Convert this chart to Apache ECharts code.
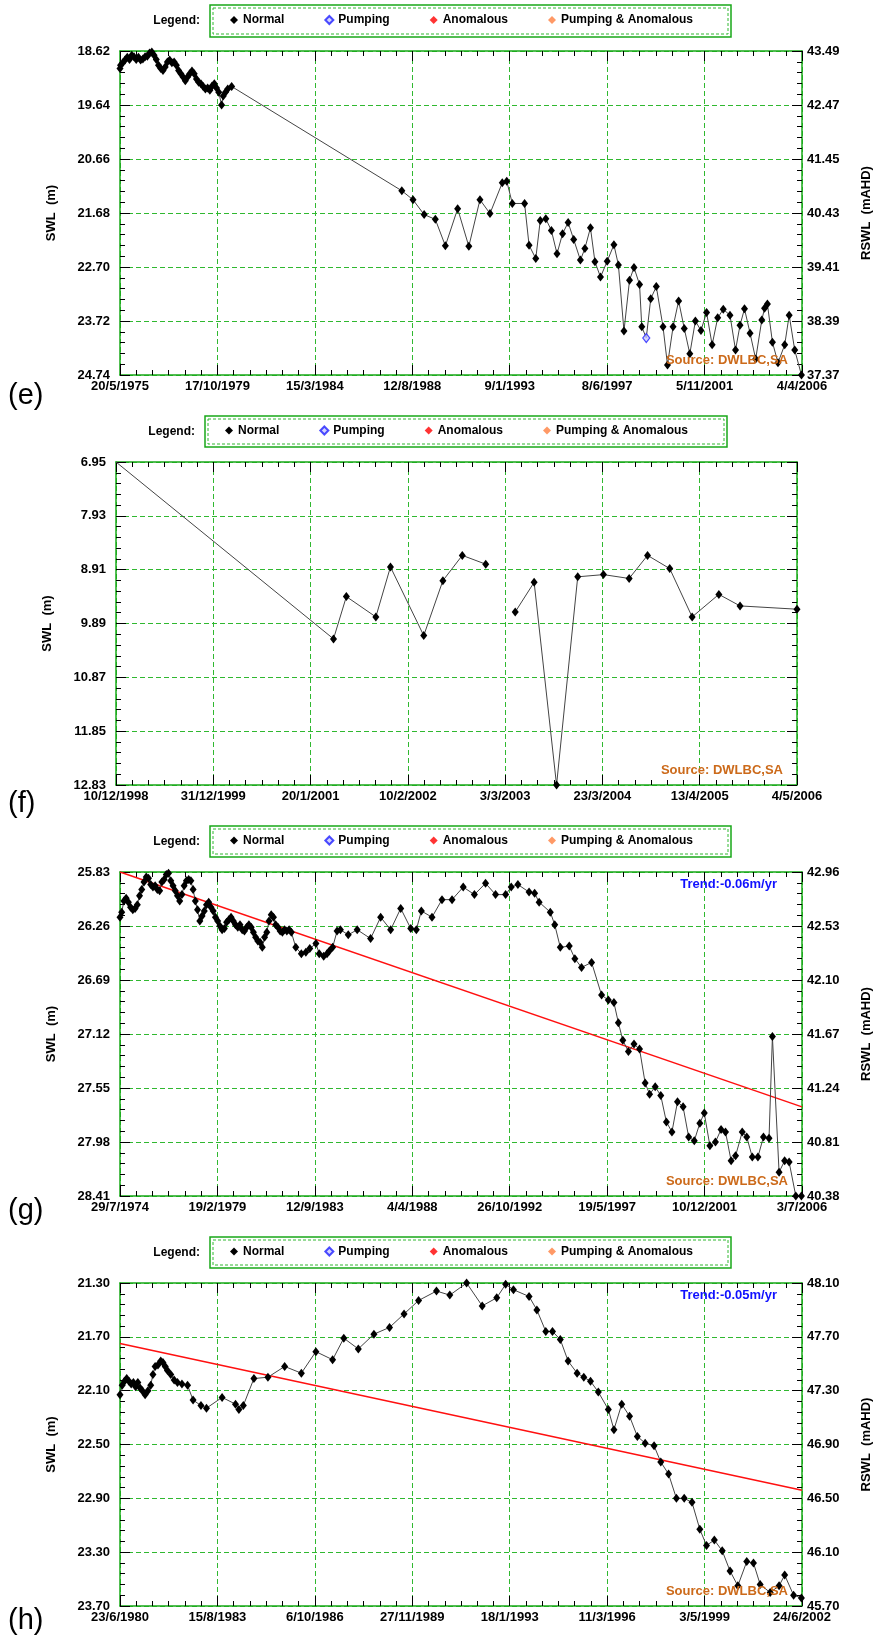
<!DOCTYPE html>
<html>
<head>
<meta charset="utf-8">
<script src="https://cdn.jsdelivr.net/npm/echarts@6/dist/echarts.min.js"></script>
<style>
  html, body { margin: 0; padding: 0; background: #fff; }
  #chart { width: 875px; height: 1638px; }
</style>
</head>
<body>
<div id="chart"></div>
<script>
// ---- data: x is days since the first tick date of each panel, y is SWL (m) ----
const eXTicks = ['20/5/1975', '17/10/1979', '15/3/1984', '12/8/1988', '9/1/1993', '8/6/1997', '5/11/2001', '4/4/2006'];
const eDayStep = 1611;
const eSwlTicks = ['18.62', '19.64', '20.66', '21.68', '22.70', '23.72', '24.74'];
const eRswlTicks = ['43.49', '42.47', '41.45', '40.43', '39.41', '38.39', '37.37'];
const eNormal = [
  [0, 18.95], [9, 18.89], [46, 18.84], [83, 18.79], [120, 18.74], [157, 18.78], [194, 18.70], [231, 18.73], [268, 18.78], [305, 18.74],
  [341, 18.79], [378, 18.77], [415, 18.73], [452, 18.72], [489, 18.66], [526, 18.64], [563, 18.70], [600, 18.78], [637, 18.89], [674, 18.95],
  [711, 18.99], [747, 18.92], [784, 18.83], [821, 18.79], [858, 18.84], [895, 18.83], [932, 18.89], [969, 18.99], [1006, 19.05], [1043, 19.11],
  [1080, 19.18], [1117, 19.11], [1154, 19.05], [1190, 19.00], [1227, 19.05], [1264, 19.15], [1301, 19.21], [1338, 19.24], [1375, 19.29], [1412, 19.34],
  [1449, 19.32], [1486, 19.36], [1523, 19.28], [1560, 19.24], [1596, 19.32], [1633, 19.40], [1680, 19.64], [1707, 19.47], [1744, 19.40], [1781, 19.34],
  [1846, 19.29],
  [4660, 21.26], [4845, 21.43], [5029, 21.71], [5214, 21.80], [5380, 22.30], [5583, 21.60], [5768, 22.31], [5952, 21.43], [6118, 21.69], [6321, 21.11],
  [6395, 21.08], [6487, 21.50], [6690, 21.50], [6764, 22.29], [6875, 22.54], [6949, 21.82], [7041, 21.79], [7133, 22.01], [7226, 22.45], [7318, 22.07],
  [7410, 21.86], [7502, 22.18], [7613, 22.57], [7687, 22.35], [7779, 21.96], [7853, 22.60], [7945, 22.89], [8056, 22.59], [8167, 22.28], [8241, 22.66],
  [8333, 23.91], [8425, 22.95], [8499, 22.71], [8591, 23.03], [8628, 23.83], [8702, 24.04], [8776, 23.30], [8868, 23.07], [8979, 23.83], [9053, 24.55],
  [9145, 23.83], [9237, 23.34], [9330, 23.86], [9422, 24.34], [9514, 23.72], [9606, 23.90], [9699, 23.56], [9791, 24.17], [9883, 23.66], [9975, 23.50],
  [10086, 23.61], [10178, 24.27], [10252, 23.80], [10326, 23.49], [10418, 23.95], [10511, 24.44], [10612, 23.70], [10658, 23.48], [10705, 23.40], [10788, 24.12],
  [10880, 24.51], [10991, 24.17], [11065, 23.61], [11157, 24.27], [11268, 24.74]
];
const ePumping = [[8702, 24.04]];

const fXTicks = ['10/12/1998', '31/12/1999', '20/1/2001', '10/2/2002', '3/3/2003', '23/3/2004', '13/4/2005', '4/5/2006'];
const fDayStep = 386;
const fSwlTicks = ['6.95', '7.93', '8.91', '9.89', '10.87', '11.85', '12.83'];
const fNormal = [
  [0, 6.95], [863, 10.17], [914, 9.40], [1031, 9.77], [1089, 8.86], [1221, 10.11], [1297, 9.11], [1374, 8.65], [1467, 8.81],
  [1525, null],
  [1584, 9.68], [1659, 9.14], [1748, 12.83], [1832, 9.04], [1934, 9.00], [2036, 9.07], [2109, 8.65], [2197, 8.89], [2286, 9.77],
  [2392, 9.36], [2476, 9.57], [2702, 9.63]
];

const gXTicks = ['29/7/1974', '19/2/1979', '12/9/1983', '4/4/1988', '26/10/1992', '19/5/1997', '10/12/2001', '3/7/2006'];
const gDayStep = 1666;
const gSwlTicks = ['25.83', '26.26', '26.69', '27.12', '27.55', '27.98', '28.41'];
const gRswlTicks = ['42.96', '42.53', '42.10', '41.67', '41.24', '40.81', '40.38'];
const gNormal = [
  [0, 26.19], [29, 26.15], [67, 26.06], [105, 26.04], [143, 26.07], [181, 26.11], [219, 26.13], [258, 26.12], [296, 26.09], [334, 26.02],
  [372, 25.97], [410, 25.91], [449, 25.87], [487, 25.88], [525, 25.93], [563, 25.95], [601, 25.94], [639, 25.97], [678, 25.98], [716, 25.91],
  [754, 25.89], [792, 25.85], [830, 25.84], [868, 25.90], [907, 25.94], [945, 25.98], [983, 26.02], [1021, 26.06], [1059, 26.01], [1097, 25.94],
  [1136, 25.90], [1174, 25.89], [1212, 25.90], [1250, 25.97], [1288, 26.06], [1326, 26.13], [1365, 26.22], [1403, 26.18], [1441, 26.14], [1479, 26.09],
  [1517, 26.07], [1556, 26.11], [1594, 26.14], [1632, 26.19], [1670, 26.22], [1708, 26.26], [1746, 26.29], [1785, 26.28], [1823, 26.23], [1861, 26.21],
  [1899, 26.19], [1937, 26.22], [1975, 26.25], [2014, 26.27], [2052, 26.25], [2090, 26.29], [2128, 26.30], [2166, 26.27], [2204, 26.25], [2243, 26.27],
  [2281, 26.31], [2319, 26.35], [2357, 26.38], [2395, 26.39], [2433, 26.43], [2472, 26.35], [2510, 26.31], [2548, 26.22], [2586, 26.17], [2624, 26.19],
  [2662, 26.25], [2701, 26.27], [2739, 26.30], [2777, 26.31], [2815, 26.29], [2853, 26.30], [2892, 26.29], [2930, 26.31],
  [3006, 26.43], [3101, 26.48], [3178, 26.47], [3245, 26.44], [3350, 26.40], [3407, 26.48], [3483, 26.50], [3540, 26.48], [3579, 26.46], [3636, 26.43],
  [3712, 26.30], [3769, 26.29], [3903, 26.33], [4056, 26.29], [4285, 26.36], [4457, 26.19], [4628, 26.29], [4800, 26.12], [4972, 26.28], [5067, 26.29],
  [5153, 26.14], [5335, 26.19], [5506, 26.05], [5678, 26.05], [5869, 25.95], [6060, 26.01], [6251, 25.92], [6422, 26.01], [6594, 26.01], [6690, 25.95],
  [6804, 25.93], [6995, 25.99], [7090, 26.00], [7167, 26.07], [7358, 26.15], [7434, 26.25], [7529, 26.43], [7682, 26.42], [7778, 26.52], [7892, 26.59],
  [8064, 26.55], [8235, 26.81], [8350, 26.85], [8446, 26.87], [8522, 27.03], [8598, 27.17], [8694, 27.26], [8789, 27.20], [8884, 27.24], [8980, 27.51],
  [9056, 27.60], [9152, 27.54], [9247, 27.61], [9343, 27.82], [9438, 27.90], [9533, 27.66], [9629, 27.70], [9724, 27.94], [9820, 27.97], [9915, 27.83],
  [9991, 27.75], [10087, 28.01], [10182, 27.98], [10278, 27.88], [10354, 27.90], [10450, 28.13], [10526, 28.09], [10640, 27.90], [10717, 27.94], [10812, 28.10],
  [10908, 28.10], [11003, 27.94], [11098, 27.95], [11156, 27.14], [11270, 28.22], [11365, 28.13], [11442, 28.14], [11556, 28.41], [11652, 28.41]
];
const gTrend = [[0, 25.83], [11662, 27.70]];

const hXTicks = ['23/6/1980', '15/8/1983', '6/10/1986', '27/11/1989', '18/1/1993', '11/3/1996', '3/5/1999', '24/6/2002'];
const hDayStep = 1148;
const hSwlTicks = ['21.30', '21.70', '22.10', '22.50', '22.90', '23.30', '23.70'];
const hRswlTicks = ['48.10', '47.70', '47.30', '46.90', '46.50', '46.10', '45.70'];
const hNormal = [
  [0, 22.13], [26, 22.06], [53, 22.03], [79, 22.01], [105, 22.03], [132, 22.05], [158, 22.04], [184, 22.07], [210, 22.04], [237, 22.08],
  [263, 22.10], [296, 22.13], [329, 22.10], [362, 22.06], [388, 21.98], [414, 21.92], [447, 21.91], [480, 21.88], [506, 21.89], [533, 21.92],
  [559, 21.95], [598, 21.98], [638, 22.02], [677, 22.04], [730, 22.05], [796, 22.06], [861, 22.17], [954, 22.21], [1019, 22.23], [1203, 22.15],
  [1361, 22.20], [1401, 22.24], [1453, 22.21], [1578, 22.01], [1743, 22.00], [1940, 21.92], [2137, 21.97], [2308, 21.81], [2505, 21.87], [2637, 21.71],
  [2808, 21.79], [2992, 21.68], [3176, 21.63], [3347, 21.53], [3518, 21.43], [3729, 21.36], [3886, 21.39], [4084, 21.30], [4268, 21.47], [4439, 21.41],
  [4544, 21.31], [4636, 21.35], [4820, 21.40], [4912, 21.50], [5017, 21.66], [5096, 21.66], [5188, 21.72], [5280, 21.88], [5386, 21.97], [5465, 22.00],
  [5544, 22.03], [5636, 22.11], [5754, 22.24], [5820, 22.39], [5912, 22.20], [6004, 22.29], [6096, 22.44], [6188, 22.49], [6293, 22.51], [6372, 22.63],
  [6464, 22.72], [6556, 22.90], [6648, 22.90], [6740, 22.93], [6832, 23.13], [6911, 23.25], [7003, 23.21], [7096, 23.29], [7188, 23.44], [7280, 23.55],
  [7385, 23.37], [7464, 23.38], [7543, 23.54], [7661, 23.60], [7766, 23.55], [7832, 23.47], [7937, 23.62], [8029, 23.64]
];
const hTrend = [[0, 21.75], [8036, 22.84]];

const legendNames = ['Normal', 'Pumping', 'Anomalous', 'Pumping & Anomalous'];

// ---- layout / style ----
const FONT = '"Liberation Sans", Arial, sans-serif';
const AXIS_GREEN = '#18a818';
const GRID_GREEN = '#30b830';

const panels = [
  { x: eXTicks, step: eDayStep, swl: eSwlTicks, rswl: eRswlTicks, normal: eNormal, pumping: ePumping, noMarker: [8702],
    left: 120, top: 51, width: 682, height: 324, box: [210, 5, 521, 32], tag: '(e)', tagY: 396 },
  { x: fXTicks, step: fDayStep, swl: fSwlTicks, rswl: null, normal: fNormal, noMarker: [0],
    left: 116, top: 462, width: 681, height: 323, box: [205, 416, 522, 31], tag: '(f)', tagY: 804 },
  { x: gXTicks, step: gDayStep, swl: gSwlTicks, rswl: gRswlTicks, normal: gNormal, trend: gTrend, trendText: 'Trend:-0.06m/yr',
    left: 120, top: 872, width: 682, height: 324, box: [210, 826, 521, 31], tag: '(g)', tagY: 1211 },
  { x: hXTicks, step: hDayStep, swl: hSwlTicks, rswl: hRswlTicks, normal: hNormal, trend: hTrend, trendText: 'Trend:-0.05m/yr',
    left: 120, top: 1283, width: 682, height: 323, box: [210, 1237, 521, 31], tag: '(h)', tagY: 1621 }
];

const labelStyle = { color: '#000', fontWeight: 'bold', fontSize: 13, fontFamily: FONT };
const tickStyle = { color: '#000', width: 1 };

const option = {
  animation: false,
  textStyle: { fontFamily: FONT },
  grid: [], xAxis: [], yAxis: [], legend: [], series: [], graphic: []
};

panels.forEach((p, i) => {
  const yTop = parseFloat(p.swl[0]);
  const yStep = parseFloat(p.swl[1]) - yTop;
  const toXY = ([d, v]) => [d / p.step, v == null ? '-' : (v - yTop) / yStep];

  // fixed plot box; the right-hand axis name sits against the page edge as in the original
  option.grid.push({ left: p.left, top: p.top, width: p.width, height: p.height, outerBoundsMode: 'none', containLabel: false });

  const xBase = {
    gridIndex: i, type: 'value', min: 0, max: 7, interval: 1,
    axisLine: { onZero: false, lineStyle: { color: AXIS_GREEN, width: 1.5 } },
    axisTick: { inside: true, length: 10, lineStyle: tickStyle },
    minorTick: { show: true, splitNumber: 6, length: 5, lineStyle: tickStyle }
  };
  option.xAxis.push(Object.assign({}, xBase, {
    position: 'bottom',
    axisLabel: Object.assign({ margin: 5, formatter: (v) => p.x[Math.round(v)] }, labelStyle),
    splitLine: { show: true, lineStyle: { color: GRID_GREEN, type: [5, 3], width: 1 } }
  }));
  option.xAxis.push(Object.assign({}, xBase, {
    position: 'top', axisLabel: { show: false }, splitLine: { show: false }
  }));

  const yBase = {
    gridIndex: i, type: 'value', inverse: true, min: 0, max: 6, interval: 1,
    axisLine: { onZero: false, lineStyle: { color: AXIS_GREEN, width: 1.5 } },
    axisTick: { inside: true, length: 10, lineStyle: tickStyle },
    minorTick: { show: true, splitNumber: 5, length: 5, lineStyle: tickStyle },
    nameLocation: 'middle', nameRotate: 90,
    nameTextStyle: { color: '#000', fontWeight: 'bold', fontSize: 13, fontFamily: FONT }
  };
  option.yAxis.push(Object.assign({}, yBase, {
    position: 'left', name: 'SWL  (m)', nameGap: 62,
    axisLabel: Object.assign({ margin: 10, formatter: (v) => p.swl[Math.round(v)] }, labelStyle),
    splitLine: { show: true, lineStyle: { color: GRID_GREEN, type: [5, 3], width: 1 } }
  }));
  option.yAxis.push(Object.assign({}, yBase, {
    position: 'right', name: p.rswl ? 'RSWL  (mAHD)' : '', nameGap: 58,
    axisLabel: p.rswl
      ? Object.assign({ margin: 5, formatter: (v) => p.rswl[Math.round(v)] }, labelStyle)
      : { show: false },
    splitLine: { show: false }
  }));

  const ax = { xAxisIndex: 2 * i, yAxisIndex: 2 * i };
  const hidden = p.noMarker || [];

  if (p.trend) {
    option.series.push(Object.assign({
      type: 'line', name: 'Trend', data: p.trend.map(toXY), symbol: 'none', z: 2,
      lineStyle: { color: '#ff1010', width: 1.5 }
    }, ax));
  }

  option.series.push(Object.assign({
    type: 'line', name: 'Normal', clip: false, z: 3,
    data: p.normal.map((pt) => hidden.includes(pt[0]) ? { value: toXY(pt), symbol: 'none' } : toXY(pt)),
    symbol: 'diamond', symbolSize: [7, 9],
    itemStyle: { color: '#000' },
    lineStyle: { color: '#444', width: 1 }
  }, ax));

  if (p.pumping) {
    option.series.push(Object.assign({
      type: 'scatter', name: 'Pumping', data: p.pumping.map(toXY), z: 4,
      symbol: 'diamond', symbolSize: [7, 9],
      itemStyle: { color: '#c8c8ff', borderColor: '#2020ff', borderWidth: 1.2 }
    }, ax));
  }

  // legend row with its double green frame
  const [bx, by, bw, bh] = p.box;
  option.legend.push({
    data: legendNames, left: bx + 20, top: by + bh / 2 - 7, padding: 0,
    icon: 'diamond', itemWidth: 8, itemHeight: 8, itemGap: 40, selectedMode: false,
    textStyle: { color: '#000', fontWeight: 'bold', fontSize: 12, fontFamily: FONT }
  });
  option.graphic.push(
    { type: 'rect', shape: { x: bx, y: by, width: bw, height: bh },
      style: { fill: null, stroke: AXIS_GREEN, lineWidth: 1.5 } },
    { type: 'rect', shape: { x: bx + 3, y: by + 3, width: bw - 6, height: bh - 6 },
      style: { fill: null, stroke: GRID_GREEN, lineWidth: 1, lineDash: [3, 2] } },
    { type: 'text', style: { text: 'Legend:', x: bx - 10, y: by + bh / 2, textAlign: 'right', textVerticalAlign: 'middle',
      font: 'bold 12px ' + FONT, fill: '#000' } },
    { type: 'text', style: { text: p.tag, x: 8, y: p.tagY, textAlign: 'left', textVerticalAlign: 'middle',
      font: '29px ' + FONT, fill: '#000' } },
    { type: 'text', z: 10, style: { text: 'Source: DWLBC,SA', x: p.left + p.width - 14, y: p.top + p.height - 15,
      textAlign: 'right', textVerticalAlign: 'middle', font: 'bold 13px ' + FONT, fill: '#cc6a1a' } }
  );
  if (p.trendText) {
    option.graphic.push({ type: 'text', z: 10, style: { text: p.trendText, x: p.left + p.width - 25, y: p.top + 12,
      textAlign: 'right', textVerticalAlign: 'middle', font: 'bold 13px ' + FONT, fill: '#1010ff' } });
  }
});

// legend-only series for the categories that have no readings here
option.series.push(
  { type: 'scatter', name: 'Anomalous', data: [], xAxisIndex: 0, yAxisIndex: 0, symbol: 'diamond', itemStyle: { color: '#ff0000' } },
  { type: 'scatter', name: 'Pumping & Anomalous', data: [], xAxisIndex: 0, yAxisIndex: 0, symbol: 'diamond', itemStyle: { color: '#ff8040' } }
);

const chart = echarts.init(document.getElementById('chart'), null, { renderer: 'canvas' });
chart.setOption(option);
</script>
</body>
</html>
